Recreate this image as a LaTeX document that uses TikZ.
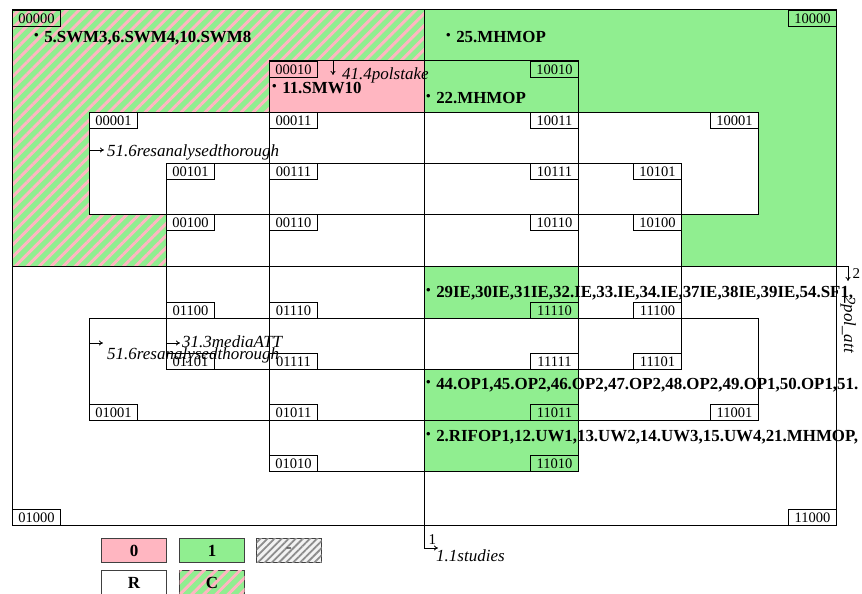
\documentclass[tikz,border=0pt]{standalone}
\usepackage{fontspec}
\setmainfont{Liberation Serif}
\usetikzlibrary{patterns.meta,arrows.meta}
\definecolor{lgreen}{HTML}{90EE90}
\definecolor{lpink}{HTML}{FFB6C1}
\newcommand\mybul{{\fontsize{13}{13}\selectfont\raisebox{3pt}{•}}\hspace{5.5pt}}
\begin{document}
\begin{tikzpicture}[x=1pt,y=-1pt,
  cellbox/.style={draw=black,fill=none,line width=1pt,minimum width=48pt,minimum height=16pt,inner sep=0pt,font=\fontsize{14.5}{14}\selectfont,anchor=north west},
  bodytxt/.style={anchor=base west,inner sep=0pt,font=\bfseries\fontsize{16.9}{18}\selectfont},
  vartxt/.style={anchor=base west,inner sep=0pt,font=\itshape\fontsize{17}{18}\selectfont},
  numtxt/.style={anchor=base west,inner sep=0pt,font=\fontsize{15}{16}\selectfont},
  varline/.style={line width=0.8pt,-{To[length=4pt,width=5pt]}},
  frame/.style={draw=black,line width=1pt},
  hatch/.style={pattern={Lines[angle=45,distance=8.5pt,line width=3pt]},pattern color=lpink},
  grayhatch/.style={pattern={Lines[angle=45,distance=5pt,line width=1.8pt]},pattern color=gray!90},
  legbox/.style={draw=black!75,line width=1pt,minimum width=65pt,minimum height=24pt,inner sep=0pt,anchor=north west,font=\bfseries\fontsize{17}{18}\selectfont}
]
\clip (0,0) rectangle (862,594);
% ---- fills
\fill[lgreen] (12,10) -- (424,10) -- (424,61) -- (269,61) -- (269,112) -- (89,112) -- (89,214) -- (166,214) -- (166,266) -- (12,266) -- cycle;
\path[hatch] (12,10) -- (424,10) -- (424,61) -- (269,61) -- (269,112) -- (89,112) -- (89,214) -- (166,214) -- (166,266) -- (12,266) -- cycle;
\fill[lgreen] (424,10) -- (836,10) -- (836,266) -- (681,266) -- (681,214) -- (758,214) -- (758,112) -- (424,112) -- cycle;
\fill[lpink] (269,61) rectangle (424,112);
\fill[lgreen] (424,266) rectangle (578,318);
\fill[lgreen] (424,369) rectangle (578,471);
% ---- frames
\draw[frame] (12,10) rectangle (836,525);
\draw[frame] (269,61) rectangle (578,471);
\draw[frame] (89,112) rectangle (758,214);
\draw[frame] (89,318) rectangle (758,420);
\draw[frame] (166,163) rectangle (681,369);
% ---- dividers with their variable arrows
\coordinate (vtop) at (424,10);
\coordinate (vbot) at (424,548);
\coordinate (vend) at (438,548);
\coordinate (hleft) at (12,266);
\coordinate (hright) at (848,266);
\coordinate (hend) at (848,281);
\draw[frame] (vtop) -- (vbot);
\draw[varline] (vbot) -- (vend);
\draw[frame] (hleft) -- (hright);
\draw[varline] (hright) -- (hend);
\node[numtxt] (one) at (428.5,544) {1};
\node[vartxt] (studies) at (436,561) {1.1studies};
\node[numtxt] (two) at (852.5,278) {2};
\node[vartxt,rotate=-90] (polatt) at (844,296) {2pol\_att};
% polstake
\coordinate (ps0) at (333,61);
\coordinate (ps1) at (333,75);
\draw[varline] (ps0) -- (ps1);
\node[vartxt] (polstake) at (342,79) {41.4polstake};
% resanalysedthorough (upper and lower)
\coordinate (ra0) at (89,150);
\coordinate (ra1) at (104,150);
\draw[varline] (ra0) -- (ra1);
\node[vartxt] (resA) at (107,156) {51.6resanalysedthorough};
\coordinate (rb0) at (89,343);
\coordinate (rb1) at (103,343);
\draw[varline] (rb0) -- (rb1);
\node[vartxt] (resB) at (107,359) {51.6resanalysedthorough};
% mediaATT
\coordinate (ma0) at (166,343);
\coordinate (ma1) at (180,343);
\draw[varline] (ma0) -- (ma1);
\node[vartxt] (media) at (182,347) {31.3mediaATT};
% ---- cell labels
\foreach \lab/\x/\y in {
  00000/12/10, 00010/269/61, 00001/89/112, 00011/269/112,
  00101/166/163, 00111/269/163, 00100/166/214, 00110/269/214,
  10000/788/10, 10010/530/61, 10001/710/112, 10011/530/112,
  10101/633/163, 10111/530/163, 10100/633/214, 10110/530/214,
  01000/12/509, 01010/269/455, 01001/89/404, 01011/269/404,
  01101/166/353, 01111/269/353, 01100/166/302, 01110/269/302,
  11000/788/509, 11010/530/455, 11001/710/404, 11011/530/404,
  11101/633/353, 11111/530/353, 11100/633/302, 11110/530/302}
  \node[cellbox] (c\lab) at (\x,\y) {\lab};
% ---- region contents
\node[bodytxt] (r00000) at (34,43) {\mybul 5.SWM3,6.SWM4,10.SWM8};
\node[bodytxt] (r10000) at (446,43) {\mybul 25.MHMOP};
\node[bodytxt] (r00010) at (272,93) {\mybul 11.SMW10};
\node[bodytxt] (r10010) at (426,103) {\mybul 22.MHMOP};
\node[bodytxt] (r11110) at (426,297) {\mybul 29IE,30IE,31IE,32.IE,33.IE,34.IE,37IE,38IE,39IE,54.SF1,};
\node[bodytxt] (r11011) at (426,389) {\mybul 44.OP1,45.OP2,46.OP2,47.OP2,48.OP2,49.OP1,50.OP1,51.};
\node[bodytxt] (r11010) at (426,441) {\mybul 2.RIFOP1,12.UW1,13.UW2,14.UW3,15.UW4,21.MHMOP,};
% ---- legend
\node[legbox,fill=lpink] (leg0) at (101,538) {0};
\node[legbox,fill=lgreen] (leg1) at (179,538) {1};
\node[legbox,fill=gray!10,postaction={grayhatch}] (legdash) at (256,538) {\textcolor{black!70}{-}};
\node[legbox,fill=white] (legR) at (101,570) {R};
\node[legbox,fill=lgreen,postaction={hatch}] (legC) at (179,570) {C};
\end{tikzpicture}
\end{document}
